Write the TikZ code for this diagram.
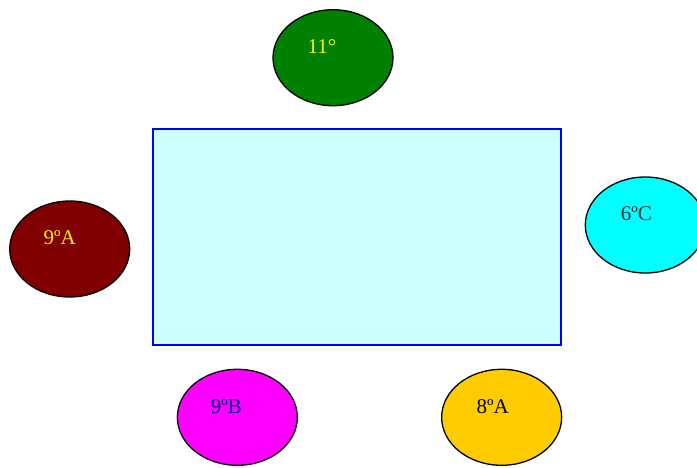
\documentclass[tikz,border=0pt]{standalone}
\usepackage{fontspec}
\setmainfont{Liberation Serif}
\usepackage{tikz}
\usetikzlibrary{shapes.geometric,positioning}
\definecolor{tablecyan}{HTML}{CCFFFF}
\definecolor{seatgreen}{HTML}{008000}
\definecolor{seatcyan}{HTML}{00FFFF}
\definecolor{seatmaroon}{HTML}{800000}
\definecolor{seatmagenta}{HTML}{FF00FF}
\definecolor{seatgold}{HTML}{FFCC00}
\definecolor{textgray}{HTML}{333333}
\definecolor{textnavy}{HTML}{000080}

\begin{document}
\begin{tikzpicture}[x=1pt,y=1pt]
		\tikzstyle{seat} = [draw, ellipse, line width=1.3pt, inner sep=0pt,
		minimum width=120pt, minimum height=96pt];
		\tikzstyle{seattext} = [font=\fontsize{21}{24}\selectfont];
		\useasboundingbox (0,0) rectangle (697,-467);
		\node[draw=blue, fill=tablecyan, line width=1.3pt, minimum width=408pt, minimum height=216pt, inner sep=0pt](table) at (357,-237) {};
		\node[seat, fill=seatgreen, above=22pt of table, xshift=-24pt](eleven) {};
		\node[seat, fill=seatcyan, right=23pt of table, yshift=12pt](sixc) {};
		\node[seat, fill=seatmaroon, left=22pt of table, yshift=-12pt](ninea) {};
		\node[seat, fill=seatmagenta, below=23pt of table.south west, xshift=85pt](nineb) {};
		\node[seat, fill=seatgold, below=23pt of table.south east, xshift=-60pt](eighta) {};
		\node[seattext, text=yellow, xshift=-11pt, yshift=11pt] at (eleven) {11°};
		\node[seattext, text=textgray, xshift=-9pt, yshift=11pt] at (sixc) {6ºC};
		\node[seattext, text=yellow, xshift=-10pt, yshift=11pt] at (ninea) {9ºA};
		\node[seattext, text=textnavy, xshift=-11pt, yshift=11pt] at (nineb) {9ºB};
		\node[seattext, text=black, xshift=-9pt, yshift=11pt] at (eighta) {8ºA};
	\end{tikzpicture}
\end{document}
